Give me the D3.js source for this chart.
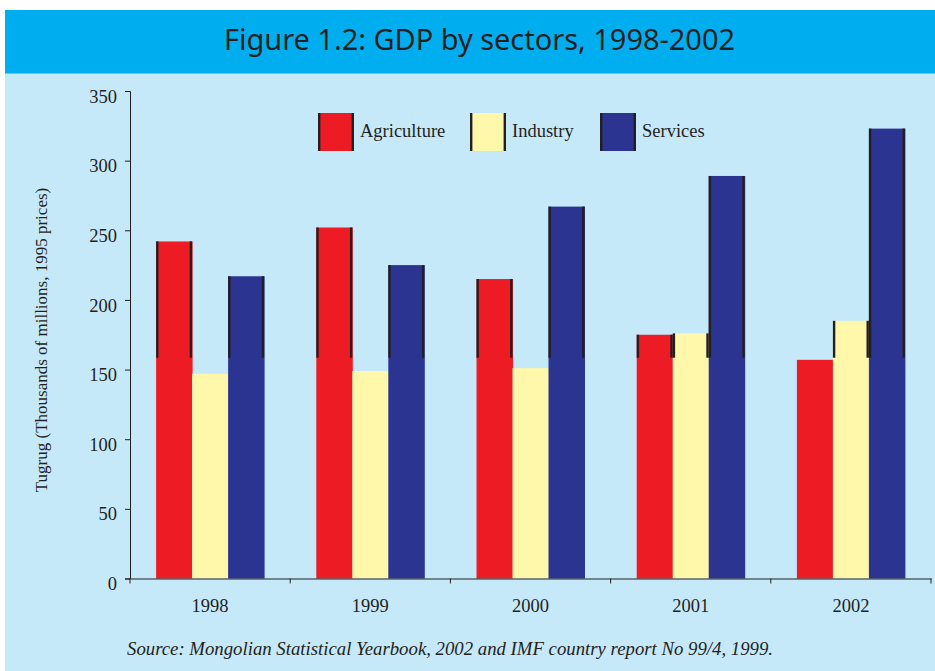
<!DOCTYPE html>
<html><head><meta charset="utf-8">
<script src="https://cdn.jsdelivr.net/npm/d3@7"></script>
<style>body{margin:0;background:#fff}svg{display:block}</style>
</head><body>
<script>
const years = ["1998","1999","2000","2001","2002"];
const seriesNames = ["Agriculture","Industry","Services"];
const agriculture = [242, 252, 215, 175, 157];
const industry = [147, 149, 151, 176, 185];
const services = [217, 225, 267, 289, 323];
const yTicks = [0,50,100,150,200,250,300,350];
const colors = ["#ED1C24","#FFF8AA","#2B3591"];
const edgeFrom = 158.5;

const W=935,H=671;
const svg=d3.select("body").append("svg").attr("width",W).attr("height",H);
svg.append("rect").attr("x",5).attr("y",73).attr("width",W-5).attr("height",H-73).attr("fill","#C6E9FA");
svg.append("rect").attr("x",5).attr("y",10).attr("width",W-5).attr("height",63.5).attr("fill","#00AEEF");
svg.append("text").attr("x",479.5).attr("y",50).attr("text-anchor","middle")
  .attr("font-family","Noto Sans").attr("font-size",29).attr("fill","#231F20")
  .attr("textLength",511).attr("lengthAdjust","spacingAndGlyphs")
  .text("Figure 1.2: GDP by sectors, 1998-2002");

const x=d3.scaleBand().domain(years).range([130,931]).paddingInner(0).paddingOuter(0);
const xs=d3.scaleBand().domain(seriesNames).range([0,108]);
const y=d3.scaleLinear().domain([0,350]).range([578.5,91]);
const data=[agriculture,industry,services];

const g=svg.append("g");
data.forEach((vals,si)=>{
  years.forEach((yr,i)=>{
    const x0=x(yr)+(x.bandwidth()-108)/2+xs(seriesNames[si]);
    const v=vals[i];
    g.append("rect").attr("x",x0).attr("y",y(v)).attr("width",xs.bandwidth()+0.5).attr("height",y(0)-y(v)).attr("fill",colors[si]);
  });
});
data.forEach((vals,si)=>{
  years.forEach((yr,i)=>{
    const v=vals[i];
    if(v>edgeFrom){
      const x0=x(yr)+(x.bandwidth()-108)/2+xs(seriesNames[si]);
      [x0+1.2,x0+xs.bandwidth()-1.2].forEach(xx=>{
        g.append("line").attr("x1",xx).attr("x2",xx).attr("y1",y(v)).attr("y2",y(edgeFrom))
          .attr("stroke","#231F20").attr("stroke-width",2.4);
      });
    }
  });
});

const ya=svg.append("g").attr("transform","translate(130,0)")
  .call(d3.axisLeft(y).tickValues(yTicks).tickSize(5).tickPadding(8).tickFormat(d3.format("d")));
ya.select(".domain").attr("stroke","#231F20");
ya.selectAll(".tick line").attr("stroke","#231F20");
ya.selectAll("text").attr("font-family","Liberation Serif").attr("font-size",18.5).attr("fill","#231F20").attr("dy","0.6em");

const xa=svg.append("g").attr("transform","translate(0,578.5)")
  .call(d3.axisBottom(x).tickSize(0).tickPadding(20));
xa.select(".domain").attr("stroke","#231F20");
xa.selectAll("text").attr("font-family","Liberation Serif").attr("font-size",18.5).attr("fill","#231F20");
const bounds=[...years.map(d=>x(d)), x.range()[1]];
svg.append("g").selectAll("line").data(bounds).join("line")
  .attr("x1",d=>d).attr("x2",d=>d).attr("y1",578.5).attr("y2",583.5).attr("stroke","#231F20");

svg.append("text").attr("transform","translate(47,340) rotate(-90)").attr("text-anchor","middle")
  .attr("font-family","Liberation Serif").attr("font-size",17).attr("fill","#231F20")
  .text("Tugrug (Thousands of millions, 1995 prices)");

const legX=[318,470,600];
seriesNames.forEach((n,i)=>{
  const lg=svg.append("g").attr("transform",`translate(${legX[i]},113)`);
  lg.append("rect").attr("width",36).attr("height",38).attr("fill",colors[i]);
  [1.2,34.8].forEach(xx=>lg.append("line").attr("x1",xx).attr("x2",xx).attr("y1",0).attr("y2",38).attr("stroke","#231F20").attr("stroke-width",2.4));
  lg.append("text").attr("x",42).attr("y",24).attr("font-family","Liberation Serif").attr("font-size",18.5).attr("fill","#231F20").text(n);
});

svg.append("text").attr("x",127).attr("y",655).attr("font-family","Liberation Serif").attr("font-style","italic")
  .attr("font-size",18.5).attr("fill","#231F20")
  .attr("textLength",646).attr("lengthAdjust","spacingAndGlyphs")
  .text("Source: Mongolian Statistical Yearbook, 2002 and IMF country report No 99/4, 1999.");
</script>
</body></html>
